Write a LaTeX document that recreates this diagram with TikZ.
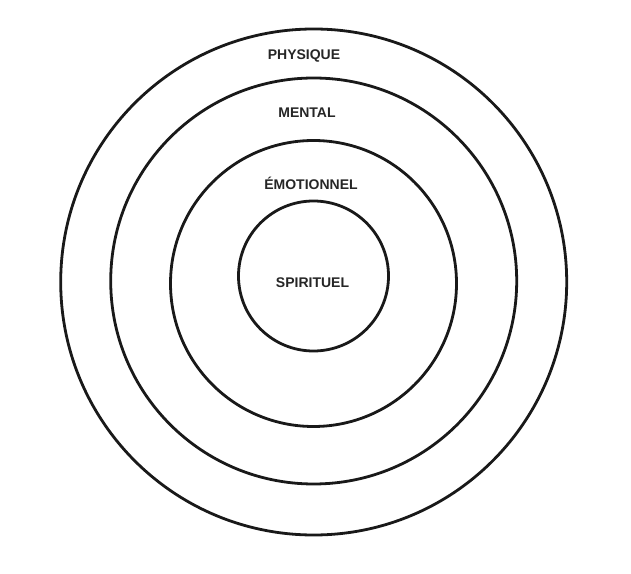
\documentclass[tikz,border=0pt]{standalone}
\usepackage{fontspec}
\setmainfont{Liberation Sans}
\begin{document}
\begin{tikzpicture}[x=1pt,y=1pt,
  ring/.style={draw=black!90, line width=2.8pt},
  lbl/.style={font=\bfseries\fontsize{14}{16}\selectfont, text=black!85, inner sep=0pt}]
\useasboundingbox[fill=white] (0,0) rectangle (631,573);
\coordinate (c) at (313.7,291);
\draw[ring] (c) circle [radius=253];
\draw[ring] (313.7,292) circle [radius=203];
\draw[ring] (313.5,289.5) circle [radius=143];
\draw[ring] (313.5,297) circle [radius=75];
\node[lbl] (phy) at (304,517) {PHYSIQUE};
\node[lbl] (men) at (307,460) {MENTAL};
\node[lbl] (emo) at (311,390) {ÉMOTIONNEL};
\node[lbl] (spi) at (312.5,290) {SPIRITUEL};
\end{tikzpicture}
\end{document}
